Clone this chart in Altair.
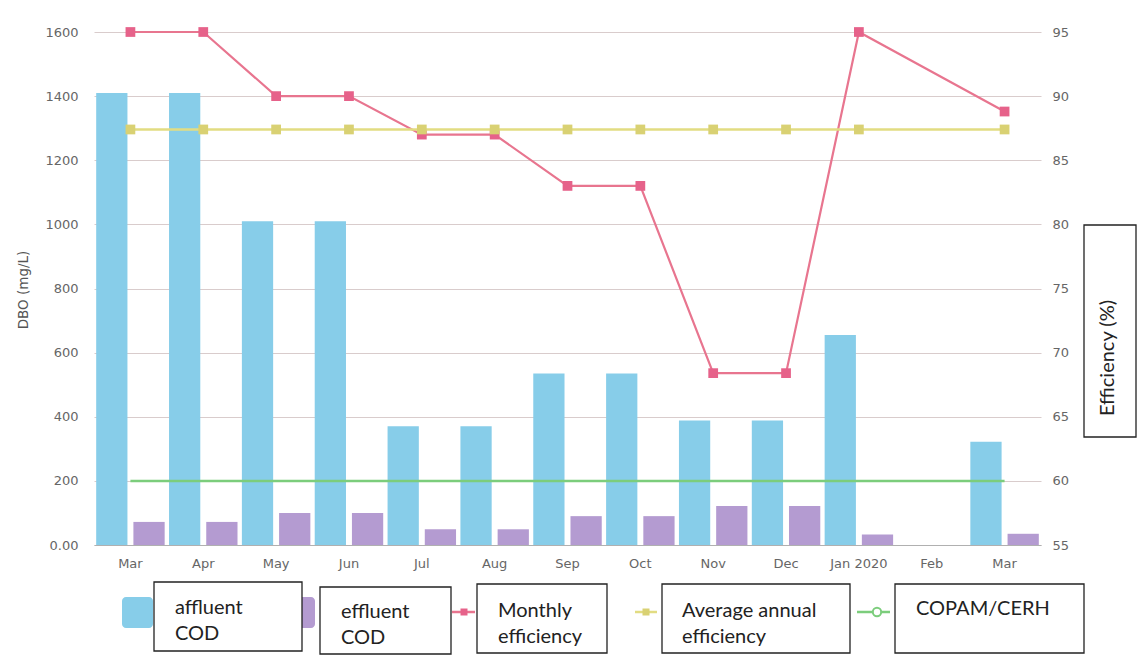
import json

import altair as alt
import pandas as pd

# ---- data -------------------------------------------------------------
months = ["Mar", "Apr", "May", "Jun", "Jul", "Aug", "Sep", "Oct",
          "Nov", "Dec", "Jan 2020", "Feb", "Mar"]
affluent_cod = [1410, 1410, 1010, 1010, 370, 370, 535, 535, 388, 388, 655, None, 322]
effluent_cod = [72, 72, 100, 100, 49, 49, 90, 90, 122, 122, 33, None, 35]
monthly_eff = [95, 95, 90, 90, 87, 87, 83, 83, 68.4, 68.4, 95, None, 88.8]
annual_eff = [87.4, 87.4, 87.4, 87.4, 87.4, 87.4, 87.4, 87.4, 87.4, 87.4, 87.4, None, 87.4]
copam_limit = [200, 200, 200, 200, 200, 200, 200, 200, 200, 200, 200, 200, 200]

series_names = ["affluent COD", "effluent COD"]
legend_labels = ["affluent\nCOD", "effluent\nCOD", "Monthly\nefficiency",
                 "Average annual\nefficiency", "COPAM/CERH"]
left_title = "DBO (mg/L)"
right_title = "Efficiency (%)"
left_ticks = [0, 200, 400, 600, 800, 1000, 1200, 1400, 1600]
right_ticks = [55, 60, 65, 70, 75, 80, 85, 90, 95]

# ---- styling ----------------------------------------------------------
BLUE = "#87cde9"
PURPLE = "#b49bd1"
PINK = "#e8758f"
PINK_MARK = "#e6628a"
YELLOW = "#e2dc82"
YELLOW_MARK = "#d9d173"
GREEN = "#7ccd7c"
GRID = "#d9cccc"
LABEL = "#666666"
AXIS_FONT = "DejaVu Sans"
LEGEND_FONT = "Lato"

W, H = 947, 513

df = pd.DataFrame({
    "i": list(range(len(months))),
    "monthly": monthly_eff,
    "annual": annual_eff,
    "copam": copam_limit,
})

bars_df = pd.concat([
    pd.DataFrame({"i": range(len(months)), "series": series_names[0], "value": affluent_cod}),
    pd.DataFrame({"i": range(len(months)), "series": series_names[1], "value": effluent_cod}),
]).dropna()

x_enc = alt.X(
    "i:O",
    title=None,
    scale=alt.Scale(paddingInner=0.06, paddingOuter=0.03),
    axis=alt.Axis(
        labelExpr=f"{json.dumps(months)}[datum.value]",
        labelAngle=0, ticks=False, grid=False,
        domain=True, domainColor="#b0b0b0", domainWidth=1,
        labelPadding=12, labelFont=AXIS_FONT, labelFontSize=13, labelColor=LABEL,
    ),
)

left_scale = alt.Scale(domain=[0, 1600], nice=False, zero=True)
left_axis = alt.Axis(
    values=left_ticks,
    labelExpr="datum.value == 0 ? '0.00' : format(datum.value, 'd')",
    grid=True, gridColor=GRID, gridWidth=1,
    domain=False, ticks=False, labelPadding=16,
    labelFont=AXIS_FONT, labelFontSize=13, labelColor=LABEL,
    title=left_title, titleFont=AXIS_FONT, titleFontSize=13.5,
    titleFontWeight="normal", titleColor="#555555",
    titleX=-71, titleY=H / 2 + 1, titleAlign="center", titleBaseline="middle",
)

right_scale = alt.Scale(domain=[55, 95], nice=False, zero=False)
right_axis = alt.Axis(
    orient="right", values=right_ticks,
    grid=False, domain=False, ticks=False, labelPadding=11,
    labelFont=AXIS_FONT, labelFontSize=13, labelColor=LABEL,
    title=None,
)

bars = alt.Chart(bars_df).mark_bar().encode(
    x=x_enc,
    xOffset=alt.XOffset("series:N", sort=series_names,
                        scale=alt.Scale(paddingInner=0.16, paddingOuter=0)),
    y=alt.Y("value:Q", scale=left_scale, axis=left_axis),
    color=alt.Color("series:N", scale=alt.Scale(domain=series_names, range=[BLUE, PURPLE]),
                    legend=None),
)

copam = alt.Chart(df).mark_line(color=GREEN, strokeWidth=2.5).encode(
    x=x_enc,
    y=alt.Y("copam:Q", scale=left_scale, axis=left_axis),
)

left_layer = alt.layer(bars, copam)

# months without a reading are skipped, so the line joins the neighbours
monthly = alt.Chart(df).transform_filter("isValid(datum.monthly)").mark_line(
    color=PINK, strokeWidth=2.2,
    point=alt.OverlayMarkDef(shape="square", size=95, filled=True, color=PINK_MARK, opacity=1),
).encode(
    x=x_enc,
    y=alt.Y("monthly:Q", scale=right_scale, axis=right_axis),
)

annual = alt.Chart(df).transform_filter("isValid(datum.annual)").mark_line(
    color=YELLOW, strokeWidth=2.6,
    point=alt.OverlayMarkDef(shape="square", size=95, filled=True, color=YELLOW_MARK, opacity=1),
).encode(
    x=x_enc,
    y=alt.Y("annual:Q", scale=right_scale, axis=right_axis),
)

right_layer = alt.layer(monthly, annual)

# ---- hand-built legend and right-axis title (pixel offsets from plot origin) ----
one = pd.DataFrame({"k": [0]})


def rect(x0, y0, x1, y1, **style):
    return alt.Chart(one).mark_rect(**style).encode(
        x=alt.value(x0), x2=alt.value(x1), y=alt.value(y0), y2=alt.value(y1)
    )


def frame(x0, y0, x1, y1):
    return rect(x0, y0, x1, y1, fill="white", stroke="#222222", strokeWidth=1.3)


def swatch_line(x0, x1, y, color, width):
    return alt.Chart(one).mark_rule(color=color, strokeWidth=width).encode(
        x=alt.value(x0), x2=alt.value(x1), y=alt.value(y)
    )


def marker(x, y, **style):
    return alt.Chart(one).mark_point(opacity=1, **style).encode(x=alt.value(x), y=alt.value(y))


def label(text, x, y, **style):
    return alt.Chart(pd.DataFrame({"t": [text]})).mark_text(
        align="left", baseline="alphabetic", font=LEGEND_FONT, fontSize=20,
        lineBreak="\n", lineHeight=26, color="#222222", **style
    ).encode(x=alt.value(x), y=alt.value(y), text="t:N")


legend = [
    rect(28, 565, 59, 596, fill=BLUE, cornerRadius=4),
    rect(190, 565, 221, 596, fill=PURPLE, cornerRadius=4),
    frame(60, 550, 208, 619),
    label(legend_labels[0], 81, 582),
    frame(226, 555, 357, 622),
    label(legend_labels[1], 247, 586),
    swatch_line(358, 381, 580, PINK, 2.5),
    marker(370, 580, shape="square", size=49, filled=True, color=PINK_MARK),
    frame(383, 552, 513, 621),
    label(legend_labels[2], 404, 585),
    swatch_line(541, 563, 580, YELLOW, 2.5),
    marker(552, 580, shape="square", size=49, filled=True, color=YELLOW_MARK),
    frame(568, 552, 756, 621),
    label(legend_labels[3], 588, 585),
    swatch_line(763, 796, 580, GREEN, 2.5),
    marker(783, 580, shape="circle", size=70, fill="white", stroke=GREEN,
           strokeWidth=2, fillOpacity=1),
    frame(801, 552, 990, 621),
    label(legend_labels[4], 822, 583),
    frame(990, 193, 1042, 405),
    alt.Chart(pd.DataFrame({"t": [right_title]})).mark_text(
        angle=270, align="center", baseline="middle", font=LEGEND_FONT,
        fontSize=20, color="#222222"
    ).encode(x=alt.value(1014), y=alt.value(326), text="t:N"),
]

chart = alt.layer(left_layer, right_layer, *legend).resolve_scale(
    y="independent"
).properties(
    width=W, height=H,
    autosize=alt.AutoSizeParams(type="none"),
    padding={"left": 94, "top": 32, "right": 107, "bottom": 110},
    background="white",
).configure_view(strokeWidth=0)

chart.save("out.html", embed_options={"renderer": "svg", "actions": False})
